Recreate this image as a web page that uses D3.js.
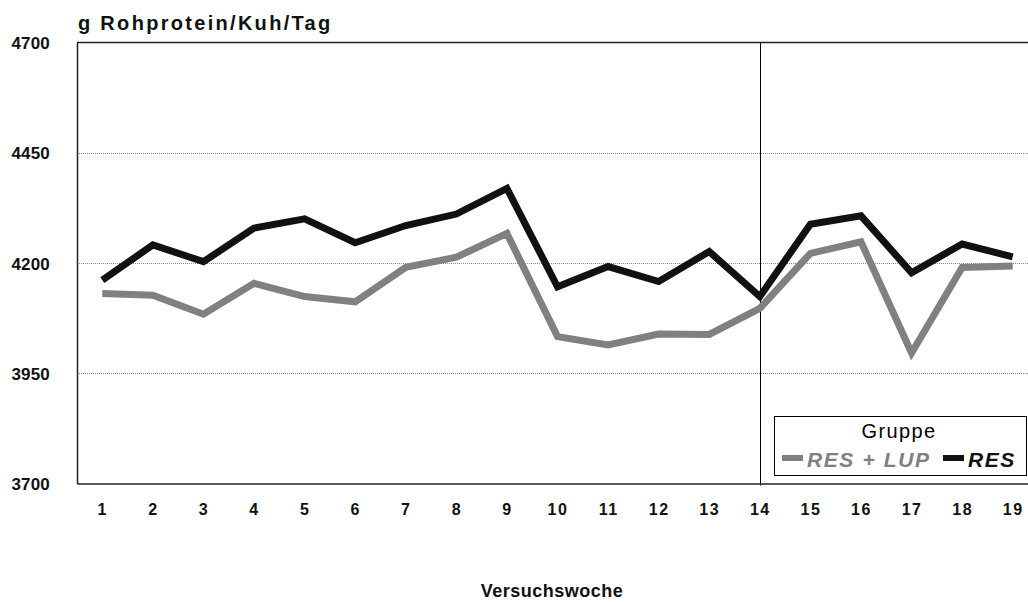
<!DOCTYPE html>
<html>
<head>
<meta charset="utf-8">
<script src="https://cdn.jsdelivr.net/npm/d3@7"></script>
<style>
  body { margin: 0; background: #fff; }
  svg { display: block; font-family: Arial, 'Liberation Sans', sans-serif; }
</style>
</head>
<body>
<svg id="chart" width="1028" height="602"></svg>
<script>
  'use strict';

  // Versuchswochen
  var weeks = [1, 2, 3, 4, 5, 6, 7, 8, 9, 10, 11, 12, 13, 14, 15, 16, 17, 18, 19];
  var resLup = [4131, 4127, 4084, 4154, 4124, 4112, 4190, 4213, 4267,
                4033, 4014, 4039, 4038, 4097, 4222, 4248, 3996, 4190, 4193];
  var res = [4161, 4241, 4203, 4279, 4300, 4246, 4285, 4311, 4369,
             4146, 4192, 4158, 4226, 4124, 4288, 4307, 4178, 4243, 4214];
  var yTicks = [3700, 3950, 4200, 4450, 4700];
  var gridTicks = [3950, 4200, 4450];
  var markWeek = 14;

  var series = [
    { name: 'RES + LUP', values: resLup, color: '#808080' },
    { name: 'RES', values: res, color: '#111111' }
  ];

  var svg = d3.select('#chart'),
      plotLeft = 77,
      plotRight = 1038,
      plotTop = 42.5,
      plotBottom = 483.5;

  var x = d3.scalePoint()
    .domain(weeks)
    .range([plotLeft, plotRight])
    .padding(0.5);

  var y = d3.scaleLinear()
    .domain([3700, 4700])
    .range([plotBottom, plotTop]);

  // gridlines
  svg.append('g')
    .selectAll('line')
    .data(gridTicks)
    .join('line')
    .attr('x1', plotLeft)
    .attr('x2', plotRight)
    .attr('y1', function(d) { return Math.round(y(d)) + 0.5; })
    .attr('y2', function(d) { return Math.round(y(d)) + 0.5; })
    .attr('stroke', '#8c8c8c')
    .attr('stroke-width', 1)
    .attr('stroke-dasharray', '1,1');

  // top frame
  svg.append('line')
    .attr('x1', plotLeft).attr('x2', plotRight)
    .attr('y1', plotTop).attr('y2', plotTop)
    .attr('stroke', '#222').attr('stroke-width', 1.5);

  // vertical marker line
  svg.append('line')
    .attr('x1', Math.round(x(markWeek)) + 0.5)
    .attr('x2', Math.round(x(markWeek)) + 0.5)
    .attr('y1', plotTop)
    .attr('y2', plotBottom + 2)
    .attr('stroke', '#000')
    .attr('stroke-width', 1);

  // axes
  var yAxis = svg.append('g')
    .attr('transform', 'translate(' + plotLeft + ',0)')
    .call(d3.axisLeft(y).tickValues(yTicks).tickSize(0).tickPadding(27).tickFormat(d3.format('d')));
  yAxis.select('.domain').attr('stroke', '#222').attr('stroke-width', 1.5);
  yAxis.selectAll('text')
    .attr('fill', '#111')
    .style('font-size', '17px')
    .style('font-weight', 'bold')
    .style('letter-spacing', '0.2px')
    .attr('dy', '0.36em');

  var xAxis = svg.append('g')
    .attr('transform', 'translate(0,' + plotBottom + ')')
    .call(d3.axisBottom(x).tickSize(0).tickPadding(0));
  xAxis.select('.domain').attr('stroke', '#222').attr('stroke-width', 1.5);
  xAxis.selectAll('text')
    .attr('fill', '#111')
    .attr('y', 31.5)
    .attr('dy', 0)
    .style('font-size', '16px')
    .style('font-weight', 'bold')
    .style('letter-spacing', '1.5px');

  // lines
  var line = d3.line()
    .x(function(d, i) { return x(weeks[i]); })
    .y(function(d) { return y(d); });

  svg.append('g')
    .selectAll('path')
    .data(series)
    .join('path')
    .attr('d', function(s) { return line(s.values); })
    .attr('fill', 'none')
    .attr('stroke', function(s) { return s.color; })
    .attr('stroke-width', 7)
    .attr('stroke-linejoin', 'miter');

  // titles
  svg.append('text')
    .attr('x', 78)
    .attr('y', 30)
    .attr('fill', '#111')
    .style('font-size', '20px')
    .style('font-weight', 'bold')
    .style('letter-spacing', '2.3px')
    .text('g Rohprotein/Kuh/Tag');

  svg.append('text')
    .attr('x', 552)
    .attr('y', 597)
    .attr('text-anchor', 'middle')
    .attr('fill', '#111')
    .style('font-size', '18px')
    .style('font-weight', 'bold')
    .style('letter-spacing', '0.5px')
    .text('Versuchswoche');

  // legend
  var legend = svg.append('g');
  legend.append('rect')
    .attr('x', 774.5).attr('y', 416.5)
    .attr('width', 252).attr('height', 59)
    .attr('fill', '#fff')
    .attr('stroke', '#000')
    .attr('stroke-width', 1);
  legend.append('text')
    .attr('x', 899).attr('y', 438)
    .attr('text-anchor', 'middle')
    .attr('fill', '#000')
    .style('font-size', '20px')
    .style('letter-spacing', '1.4px')
    .text('Gruppe');

  var items = [
    { s: series[0], sx: 782, tx: 807 },
    { s: series[1], sx: 943, tx: 968 }
  ];
  legend.selectAll('rect.sw')
    .data(items)
    .join('rect')
    .attr('class', 'sw')
    .attr('x', function(d) { return d.sx; })
    .attr('y', 455)
    .attr('width', 21)
    .attr('height', 6)
    .attr('fill', function(d) { return d.s.color; });
  legend.selectAll('text.lab')
    .data(items)
    .join('text')
    .attr('class', 'lab')
    .attr('x', function(d) { return d.tx; })
    .attr('y', 467)
    .attr('fill', function(d) { return d.s.color; })
    .style('font-size', '21px')
    .style('font-weight', 'bold')
    .style('font-style', 'italic')
    .style('letter-spacing', '1.6px')
    .text(function(d) { return d.s.name; });
</script>
</body>
</html>
